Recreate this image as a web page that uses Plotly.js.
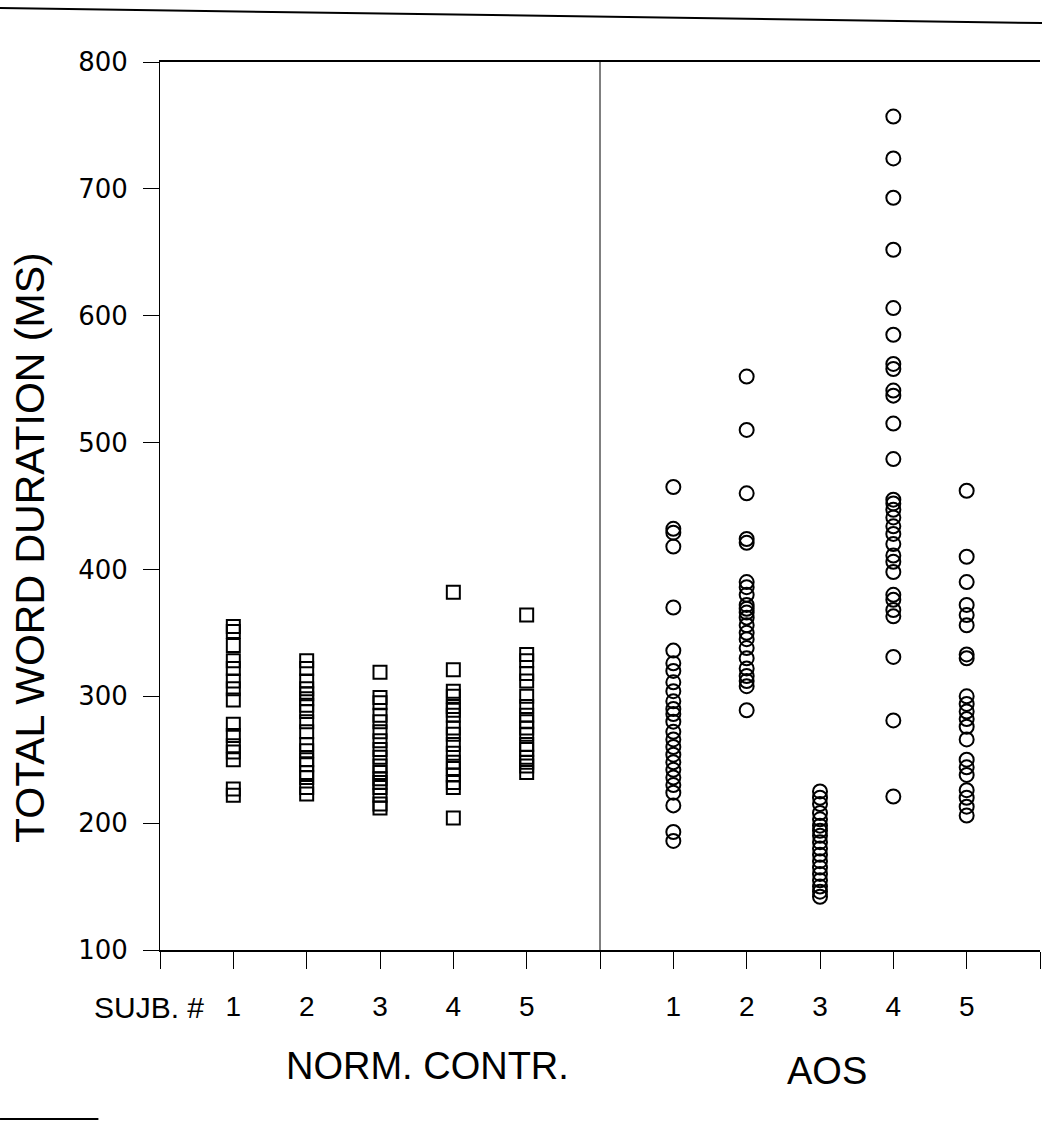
<!DOCTYPE html>
<html>
<head>
<meta charset="utf-8">
<script src="https://cdn.plot.ly/plotly-3.0.1.min.js"></script>
<style>
html,body{margin:0;padding:0;background:#fff;}
#chart{width:1042px;height:1124px;}
</style>
</head>
<body>
<div id="chart"></div>
<script>
// ---- Data (ms) ----
const subjectLabels = ["1", "2", "3", "4", "5"];
const normCtrl1 = [355, 351, 340, 328, 322, 312, 306, 297, 278, 269, 261, 256, 250, 227, 222];
const normCtrl2 = [328, 322, 312, 306, 302, 298, 293, 288, 280, 272, 262, 257, 250, 246, 240, 236, 228, 223];
const normCtrl3 = [319, 299, 295, 285, 280, 272, 265, 258, 252, 245, 240, 235, 232, 228, 222, 215, 212];
const normCtrl4 = [382, 321, 304, 300, 292, 289, 285, 275, 270, 262, 255, 248, 243, 238, 232, 228, 204];
const normCtrl5 = [364, 333, 328, 318, 312, 300, 292, 285, 280, 275, 270, 262, 258, 252, 248, 245, 240];
const aos1 = [465, 432, 429, 418, 370, 336, 326, 320, 311, 304, 296, 290, 286, 280, 272, 266, 260, 254, 248, 242, 236, 230, 224, 214, 193, 186];
const aos2 = [552, 510, 460, 424, 421, 390, 386, 380, 372, 369, 366, 362, 356, 350, 345, 338, 330, 322, 316, 312, 308, 289];
const aos3 = [225, 220, 215, 208, 203, 198, 194, 190, 185, 180, 175, 170, 165, 160, 155, 150, 146, 142];
const aos4 = [757, 724, 693, 652, 606, 585, 562, 558, 541, 537, 515, 487, 455, 452, 447, 441, 434, 428, 420, 411, 406, 398, 380, 376, 368, 363, 331, 281, 221];
const aos5 = [462, 410, 390, 372, 364, 356, 333, 330, 300, 294, 288, 282, 276, 266, 250, 244, 238, 226, 220, 213, 206];
const yTicks = [100, 200, 300, 400, 500, 600, 700, 800];

const normGroups = [normCtrl1, normCtrl2, normCtrl3, normCtrl4, normCtrl5];
const aosGroups = [aos1, aos2, aos3, aos4, aos5];

// slot positions on the x axis: NC subjects 1..5, divider at 6, AOS subjects 7..11
const ncSlots = [1, 2, 3, 4, 5];
const aosSlots = [7, 8, 9, 10, 11];

const traces = [];
normGroups.forEach((vals, i) => {
  traces.push({
    type: "scatter", mode: "markers",
    x: vals.map(() => ncSlots[i]), y: vals,
    name: "NORM. CONTR. " + subjectLabels[i],
    marker: {symbol: "square-open", size: 13, color: "#000", line: {width: 2, color: "#000"}},
    showlegend: false, hoverinfo: "y"
  });
});
aosGroups.forEach((vals, i) => {
  traces.push({
    type: "scatter", mode: "markers",
    x: vals.map(() => aosSlots[i]), y: vals,
    name: "AOS " + subjectLabels[i],
    marker: {symbol: "circle-open", size: 14, color: "#000", line: {width: 2, color: "#000"}},
    showlegend: false, hoverinfo: "y"
  });
});

const xTickVals = [0].concat(ncSlots, [6], aosSlots, [12]);
const xTickText = [""].concat(subjectLabels, [""], subjectLabels, [""]);

const layout = {
  width: 1042, height: 1124,
  margin: {l: 160, r: 2, t: 62, b: 174},
  paper_bgcolor: "#fff", plot_bgcolor: "#fff",
  font: {family: "Liberation Sans, Arial, sans-serif", color: "#000"},
  showlegend: false,
  xaxis: {
    range: [0, 12], showgrid: false, zeroline: false,
    showline: true, linecolor: "#000", linewidth: 2, mirror: true,
    ticks: "outside", ticklen: 17, tickwidth: 1, tickcolor: "#000",
    tickmode: "array", tickvals: xTickVals, ticktext: xTickText,
    ticklabelstandoff: 13,
    tickfont: {family: "Liberation Sans, Arial, sans-serif", size: 28, color: "#000"}
  },
  yaxis: {
    range: [100, 800], showgrid: false, zeroline: false,
    showline: true, linecolor: "#000", linewidth: 1,
    ticks: "outside", ticklen: 16, tickwidth: 1, tickcolor: "#000",
    tickmode: "array", tickvals: yTicks,
    ticklabelstandoff: 10,
    tickfont: {family: "DejaVu Sans, sans-serif", size: 26, color: "#000"}
  },
  shapes: [
    {type: "line", xref: "x", yref: "y", x0: 6, x1: 6, y0: 100, y1: 800,
     line: {color: "#000", width: 1}},
    {type: "line", xref: "paper", yref: "paper", x0: -0.1818, x1: 1.0023, y0: 1.0608, y1: 1.0439,
     line: {color: "#000", width: 2}},
    {type: "line", xref: "paper", yref: "paper", x0: -0.1818, x1: -0.07, y0: -0.1903, y1: -0.1903,
     line: {color: "#000", width: 2}}
  ],
  annotations: [
    {text: "TOTAL WORD DURATION (MS)", xref: "paper", yref: "paper",
     x: (30 - 160) / 880, y: (950 - 548) / 888, textangle: -90,
     xanchor: "center", yanchor: "middle", showarrow: false,
     font: {family: "Liberation Sans, Arial, sans-serif", size: 41, color: "#000"}},
    {text: "SUJB. #", xref: "paper", yref: "paper", x: (206 - 160) / 880, y: (950 - 1007) / 888,
     xanchor: "right", yanchor: "middle", showarrow: false,
     font: {family: "Liberation Sans, Arial, sans-serif", size: 30, color: "#000"}},
    {text: "NORM. CONTR.", xref: "x", yref: "paper", x: 3.65, y: (950 - 1066) / 888,
     xanchor: "center", yanchor: "middle", showarrow: false,
     font: {family: "Liberation Sans, Arial, sans-serif", size: 38, color: "#000"}},
    {text: "AOS", xref: "x", yref: "paper", x: 9.1, y: (950 - 1071) / 888,
     xanchor: "center", yanchor: "middle", showarrow: false,
     font: {family: "Liberation Sans, Arial, sans-serif", size: 38, color: "#000"}}
  ]
};

Plotly.newPlot("chart", traces, layout, {staticPlot: true, displayModeBar: false});
</script>
</body>
</html>
